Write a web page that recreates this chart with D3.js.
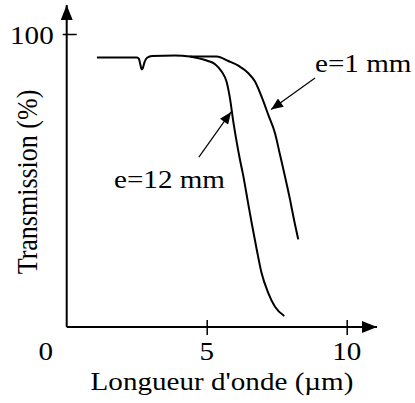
<!DOCTYPE html>
<html lang="fr">
<head>
<meta charset="UTF-8">
<title>Transmission vs longueur d'onde</title>
<script src="https://d3js.org/d3.v7.min.js"></script>
<style>
  body { margin: 0; background: #fff; }
</style>
</head>
<body>
<svg id="chart" width="415" height="403"></svg>
<script>
// wavelength (µm) / transmission (%)
var thickWave = [1.08, 2.51, 2.58, 2.63, 2.68, 2.72, 2.78, 2.87, 3.05, 3.87, 4.40, 4.76, 5.05, 5.30, 5.54, 5.71, 5.83, 5.95, 6.07, 6.19, 6.30, 6.46, 6.62, 6.79, 6.96, 7.20, 7.44, 7.77];
var thickTrans = [92.0, 92.0, 91.5, 89.6, 87.9, 88.4, 90.4, 91.9, 92.5, 92.7, 92.3, 91.6, 90.8, 89.7, 87.1, 83.7, 78.1, 70.1, 63.2, 57.0, 51.9, 43.3, 34.8, 26.3, 18.4, 11.6, 6.9, 3.75];

var thinWave = [4.40, 5.36, 5.77, 6.13, 6.49, 6.73, 6.96, 7.20, 7.44, 7.62, 7.80, 7.98, 8.12, 8.27];
var thinTrans = [92.3, 92.3, 90.8, 89.2, 86.6, 83.7, 78.6, 72.4, 66.1, 58.7, 51.2, 43.3, 36.5, 29.9];

var xTicks = [5, 10];
var yTicks = [100];
var seriesLabels = ["e=12 mm", "e=1 mm"];
var xTitle = "Longueur d'onde (\u00b5m)";
var yTitle = "Transmission (%)";

// pointer lines for the two labels: [from, to] in data units
var pointers = [
    [[4.72, 58.0], [5.87, 73.4]],
    [[8.87, 85.0], [7.30, 74.2]]
];

var svg = d3.select("#chart");
var ox = 66.7, oy = 327;
var fontSize = 26, stretch = 1.12;

var x = d3.scaleLinear().domain([0, 10]).range([ox, 346.7]);
var y = d3.scaleLinear().domain([0, 100]).range([oy, 34]);

// arrow markers
var defs = svg.append("defs");
defs.append("marker")
    .attr("id", "head")
    .attr("markerUnits", "userSpaceOnUse")
    .attr("viewBox", "0 0 12 10")
    .attr("refX", 12).attr("refY", 5)
    .attr("markerWidth", 13).attr("markerHeight", 10)
    .attr("orient", "auto")
    .append("path").attr("d", "M0,0 L12,5 L0,10 Z").attr("fill", "#000");

defs.append("marker")
    .attr("id", "axisHead")
    .attr("markerUnits", "userSpaceOnUse")
    .attr("viewBox", "0 0 15 12")
    .attr("refX", 15).attr("refY", 6)
    .attr("markerWidth", 15).attr("markerHeight", 12)
    .attr("orient", "auto")
    .append("path").attr("d", "M0,0 L15,6 L0,12 Z").attr("fill", "#000");

function label(sel, tx, ty, str, anchor, rot) {
    sel.append("text")
        .attr("transform", "translate(" + tx + "," + ty + ") scale(" + stretch + ",1)" + (rot ? " rotate(" + rot + ")" : ""))
        .attr("text-anchor", anchor)
        .style("font-family", "Liberation Serif")
        .style("font-size", fontSize + "px")
        .style("fill", "#000")
        .text(str);
}

// x axis
var xAxis = svg.append("g")
    .attr("transform", "translate(0," + oy + ")")
    .call(d3.axisBottom(x).tickValues(xTicks).tickSize(0).tickFormat(""));
xAxis.select(".domain").remove();
xAxis.selectAll(".tick text").remove();
xAxis.selectAll(".tick line").attr("y1", -7).attr("y2", 8).attr("stroke", "#000").attr("stroke-width", 1.5);
xAxis.append("line")
    .attr("x1", ox).attr("x2", 377).attr("y1", 0).attr("y2", 0)
    .attr("stroke", "#000").attr("stroke-width", 2)
    .attr("marker-end", "url(#axisHead)");
xTicks.forEach(function(t) { label(xAxis, x(t), 33, String(t), "middle"); });
label(xAxis, x(0) - 21, 33, "0", "middle");

// y axis
var yAxis = svg.append("g")
    .attr("transform", "translate(" + ox + ",0)")
    .call(d3.axisLeft(y).tickValues(yTicks).tickSize(0).tickFormat(""));
yAxis.select(".domain").remove();
yAxis.selectAll(".tick text").remove();
yAxis.selectAll(".tick line").attr("x1", -4).attr("x2", 10).attr("stroke", "#000").attr("stroke-width", 1.5);
yAxis.append("line")
    .attr("x1", 0).attr("x2", 0).attr("y1", oy).attr("y2", 5)
    .attr("stroke", "#000").attr("stroke-width", 2)
    .attr("marker-end", "url(#axisHead)");
yTicks.forEach(function(t) { label(yAxis, -13, y(t) + 10, String(t), "end"); });

// titles
label(svg, 222, 390, xTitle, "middle");
label(svg, 37, 182, yTitle, "middle", -90);

// curves
var line = d3.line()
    .x(function(d) { return x(d[0]); })
    .y(function(d) { return y(d[1]); })
    .curve(d3.curveMonotoneX);

[[thickWave, thickTrans], [thinWave, thinTrans]].forEach(function(s) {
    svg.append("path")
        .datum(d3.zip(s[0], s[1]))
        .attr("fill", "none")
        .attr("stroke", "#000")
        .attr("stroke-width", 2)
        .attr("d", line);
});

// pointers and labels
pointers.forEach(function(p) {
    svg.append("line")
        .attr("x1", x(p[0][0])).attr("y1", y(p[0][1]))
        .attr("x2", x(p[1][0])).attr("y2", y(p[1][1]))
        .attr("stroke", "#000").attr("stroke-width", 1.2)
        .attr("marker-end", "url(#head)");
});
label(svg, 114, 188, seriesLabels[0], "start");
label(svg, 315, 72, seriesLabels[1], "start");
</script>
</body>
</html>
